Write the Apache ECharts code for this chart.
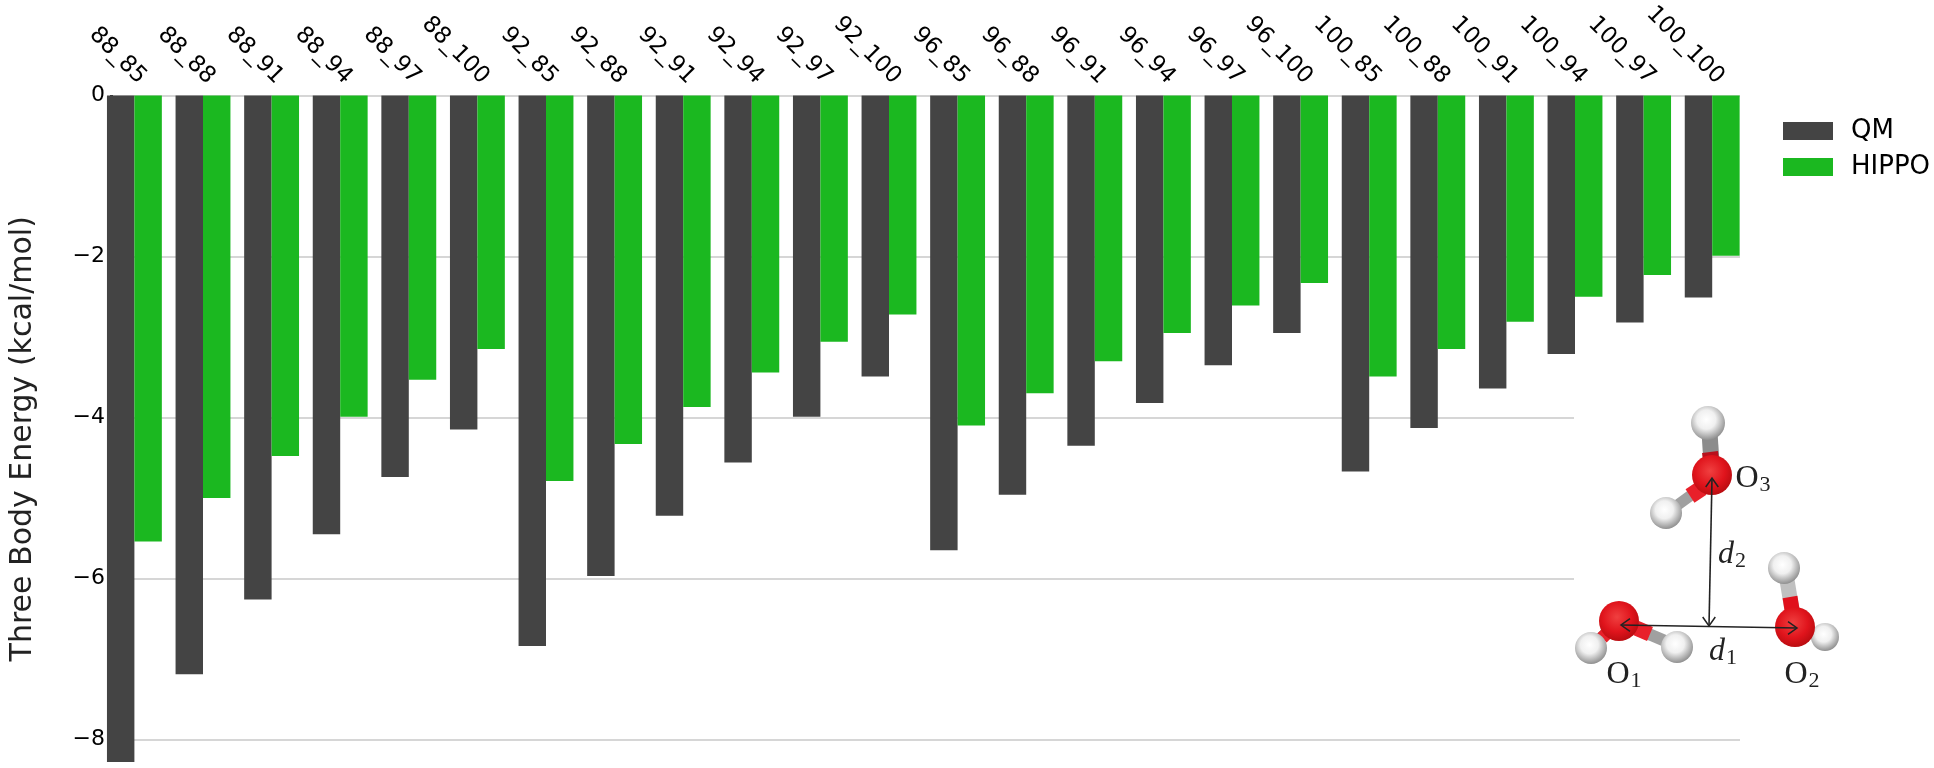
<!DOCTYPE html>
<html>
<head>
<meta charset="utf-8">
<style>html,body{margin:0;padding:0;background:#fff}#main{width:1934px;height:768px}</style>
<script src="https://cdn.jsdelivr.net/npm/echarts@6/dist/echarts.min.js"></script>
</head>
<body>
<div id="main"></div>
<script>
var categories = ['88_85','88_88','88_91','88_94','88_97','88_100','92_85','92_88','92_91','92_94','92_97','92_100',
    '96_85','96_88','96_91','96_94','96_97','96_100','100_85','100_88','100_91','100_94','100_97','100_100'];
var qm = [-8.28,-7.19,-6.26,-5.45,-4.74,-4.15,-6.84,-5.97,-5.22,-4.56,-3.99,-3.49,
    -5.65,-4.96,-4.35,-3.82,-3.35,-2.95,-4.67,-4.13,-3.64,-3.21,-2.82,-2.51];
var hippo = [-5.54,-5.0,-4.48,-3.99,-3.53,-3.15,-4.79,-4.33,-3.87,-3.44,-3.06,-2.72,
    -4.1,-3.7,-3.3,-2.95,-2.61,-2.33,-3.49,-3.15,-2.81,-2.5,-2.23,-1.99];
var yTicks = [0,-2,-4,-6,-8];
var yMin = -8.28;

var font = '"DejaVu Sans"';
var top0 = 95.5, plotH = 666.5;

// inset: water trimer
function ball(cx,cy,r,stops){
    return {type:'circle',z:11,shape:{cx:cx,cy:cy,r:r},style:{
        fill:new echarts.graphic.RadialGradient(0.45,0.4,0.62,stops)}};
}
function hyd(cx,cy,r){
    return ball(cx,cy,r,[{offset:0,color:'#ffffff'},{offset:0.45,color:'#f0f0f0'},{offset:1,color:'#8a8a8a'}]);
}
function oxy(cx,cy,r){
    return ball(cx,cy,r,[{offset:0,color:'#f04040'},{offset:0.6,color:'#e0141c'},{offset:1,color:'#b80c10'}]);
}
function bond(x1,y1,x2,y2,color,w){
    return {type:'line',z:10,shape:{x1:x1,y1:y1,x2:x2,y2:y2},style:{stroke:color,lineWidth:w}};
}
function arrowHead(x,y,dx,dy){
    var s=9;
    return {type:'polyline',z:13,shape:{points:[[x+dx*s-dy*s*0.7,y+dy*s-dx*s*0.7],[x,y],[x+dx*s+dy*s*0.7,y+dy*s+dx*s*0.7]]},
        style:{stroke:'#222',lineWidth:1.5,fill:null}};
}
function label(x,y,main,sub,italic){
    return {type:'text',z:14,x:x,y:y,style:{
        rich:{m:{font:(italic?'italic ':'')+'32px "Liberation Serif"',fill:'#222'},
              s:{font:'22px "Liberation Serif"',fill:'#222',padding:[12,0,0,1]}},
        text:'{m|'+main+'}{s|'+sub+'}',verticalAlign:'middle',align:'center'}};
}
var inset = [
    {type:'rect',z:9,shape:{x:1574,y:410,width:172,height:290},style:{fill:'#fff'}},
    bond(1709,425,1712,470,'#8c8c8c',16), bond(1710,452,1712,470,'#b8101c',16),
    bond(1668,512,1705,485,'#a0a0a0',11), bond(1690,496,1702,488,'#e8202a',16),
    bond(1591,646,1612,628,'#8c8c8c',11), bond(1602,638,1612,628,'#e8202a',13),
    bond(1677,646,1630,626,'#a0a0a0',12), bond(1650,634,1636,628,'#e8202a',15),
    bond(1785,568,1794,622,'#c0c0c0',15), bond(1790,597,1794,622,'#e0101c',15),
    bond(1825,637,1800,630,'#a0a0a0',12),
    hyd(1708,423,17), hyd(1666,513,16),
    hyd(1591,648,16), hyd(1677,647,16),
    hyd(1784,568,16), hyd(1825,637,14),
    oxy(1712,475,20), oxy(1619,621,20), oxy(1795,627,20),
    {type:'line',z:13,shape:{x1:1621,y1:625,x2:1797,y2:628},style:{stroke:'#222',lineWidth:1.6}},
    {type:'line',z:13,shape:{x1:1712,y1:478,x2:1709,y2:626},style:{stroke:'#222',lineWidth:1.6}},
    arrowHead(1621,625,1,0), arrowHead(1797,628,-1,0), arrowHead(1712,478,0,1), arrowHead(1709,626,0,-1),
    label(1753,479,'O','3',false), label(1624,675,'O','1',false), label(1802,675,'O','2',false),
    label(1732,555,'d','2',true), label(1723,652,'d','1',true)
];

var option = {
    animation:false,
    backgroundColor:'#fff',
    legend:{
        orient:'vertical',left:1783,top:118,padding:0,icon:'rect',itemWidth:50,itemHeight:18,itemGap:10,
        textStyle:{fontFamily:font,fontSize:26,color:'#000',padding:[0,0,0,13]},
        data:['QM','HIPPO']
    },
    // grid 0 holds y axis + gridlines, grid 1 the bars, grid 2 the shifted top labels
    grid:[
        {left:107,width:1633,top:top0,height:plotH},
        {left:100.1,width:1646.4,top:top0,height:plotH},
        {left:108.1,width:1646.4,top:top0,height:plotH}
    ],
    xAxis:[
        {gridIndex:0,type:'category',data:categories,position:'top',show:false},
        {gridIndex:1,type:'category',data:categories,position:'top',
            axisLine:{show:false},axisTick:{show:false},axisLabel:{show:false}},
        {gridIndex:2,type:'category',data:categories,position:'top',
            axisLine:{show:false},axisTick:{show:false},
            axisLabel:{interval:0,rotate:-45,align:'right',verticalAlign:'middle',margin:15,
                fontFamily:font,fontSize:23,color:'#000'}}
    ],
    yAxis:[
        {gridIndex:0,type:'value',min:yMin,max:0,
            name:'Three Body Energy (kcal/mol)',nameLocation:'middle',nameGap:75,
            nameTextStyle:{fontFamily:font,fontSize:30,color:'#222',padding:[0,20,0,0]},
            axisLine:{show:false},
            axisTick:{show:true,length:3,lineStyle:{color:'#333'},customValues:yTicks},
            axisLabel:{fontFamily:font,fontSize:22,color:'#000',margin:8,customValues:yTicks,
                formatter:function(v){return v<0?'\u2212'+Math.abs(v):''+v;}},
            splitLine:{show:true,lineStyle:{color:'#c9c9c9',width:1.5}}},
        {gridIndex:1,type:'value',min:yMin,max:0,show:false,splitLine:{show:false}},
        {gridIndex:2,type:'value',min:yMin,max:0,show:false,splitLine:{show:false}}
    ],
    series:[
        {name:'QM',type:'bar',xAxisIndex:1,yAxisIndex:1,data:qm,barGap:0,barCategoryGap:'20%',
            itemStyle:{color:'#444444'}},
        {name:'HIPPO',type:'bar',xAxisIndex:1,yAxisIndex:1,data:hippo,
            itemStyle:{color:'#1bb820'}}
    ],
    graphic:inset
};
var chart = echarts.init(document.getElementById('main'));
chart.setOption(option);
</script>
</body>
</html>
